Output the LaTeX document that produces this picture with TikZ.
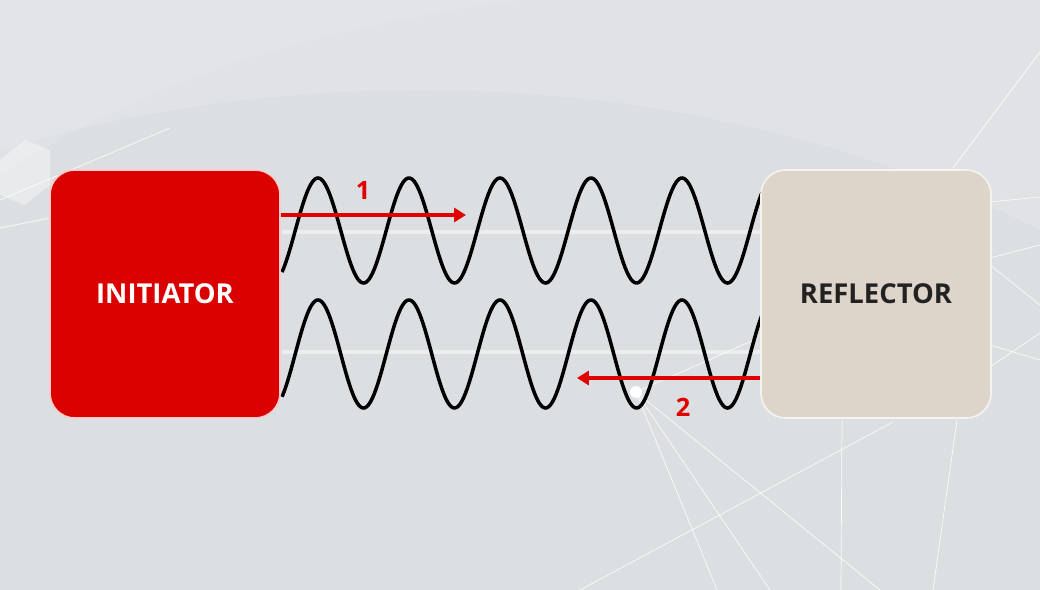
\documentclass[tikz,border=0pt]{standalone}
\usepackage{fontspec}
\setsansfont{Open Sans}
\newfontfamily\boxfont{Open Sans}
\usepackage{tikz}
\usetikzlibrary{arrows.meta, positioning}
\definecolor{initred}{HTML}{DA0000}
\definecolor{arrowred}{HTML}{E00000}
\definecolor{reflbeige}{HTML}{DED5CA}
\definecolor{bggray}{HTML}{DCDFE2}
\definecolor{textdark}{HTML}{222222}
\tikzset{
    devbox/.style={
        rectangle,
        rounded corners=0.62cm,
        minimum width=5.75cm,
        minimum height=6.2cm,
        line width=1.2pt,
        font=\boxfont\bfseries\fontsize{19.5}{24}\selectfont
    },
    initbox/.style={
        devbox,
        draw=white!80!initred,
        fill=initred,
        text=white
    },
    reflbox/.style={
        devbox,
        draw=white!70!reflbeige,
        fill=reflbeige,
        text=textdark
    },
    wave/.style={
        draw=black,
        line width=2.5pt
    },
    signal/.style={
        draw=arrowred,
        line width=2.5pt,
        -{Triangle[length=8.5pt,width=10pt]}
    },
    steplabel/.style={
        text=arrowred,
        font=\boxfont\bfseries\fontsize{18}{20}\selectfont
    },
    beam/.style={
        draw=white,
        line width=0.5pt,
        opacity=0.85
    }
}

\begin{document}
\begin{tikzpicture}[x=0.025cm, y=-0.025cm]

% Background
\useasboundingbox (0,0) rectangle (1040,590);
\fill[bggray] (0,0) rectangle (1040,590);
\fill[white, opacity=0.12] (0,150) .. controls (300,60) and (700,60) .. (1040,230) -- (1040,0) -- (0,0) -- cycle;
\fill[white, opacity=0.10] (0,175) .. controls (150,80) and (300,30) .. (520,0) -- (0,0) -- cycle;
\fill[white, opacity=0.35] (0,160) -- (25,140) -- (50,150) -- (50,185) -- (25,205) -- (0,195) -- cycle;

% Background lines
\draw[beam] (0,200) -- (170,128);
\draw[beam] (0,228) -- (50,218);
\draw[beam] (953,168) -- (1040,52);
\draw[beam] (990,202) -- (1040,197);
\draw[beam] (990,258) -- (1040,245);
\draw[beam] (990,265) -- (1040,305);
\draw[beam] (990,367) -- (1040,333);
\draw[beam] (990,345) -- (1040,360);
\draw[beam] (636,392) -- (754,340);
\draw[beam] (636,392) -- (717,590);
\draw[beam] (636,392) -- (770,590);
\draw[beam] (636,392) -- (880,590);
\draw[beam] (580,590) -- (893,422);
\draw[beam] (842,420) -- (841,590);
\draw[beam] (957,420) -- (933,590);
\fill[white] (636,392) circle (6);

% Center lines of the waves
\draw[white, line width=2.5pt, opacity=0.45] (282,232) -- (762,232);
\draw[white, line width=2.5pt, opacity=0.45] (282,352) -- (762,352);

% Waves
\draw[wave] plot[domain=282:762, samples=320] (\x, {230.5 - 52.5*cos(3.956*(\x-318))});
\draw[wave] plot[domain=282:762, samples=320] (\x, {354 - 54*cos(3.956*(\x-318))});

% Initiator and reflector
\node[initbox] (init) at (165,294) {INITIATOR};
\node[reflbox] (refl) at (876,294) {REFLECTOR};

% Signal 1
\coordinate (tip1) at (466,215);
\draw[signal] (init.east |- tip1) -- (tip1);
\node[steplabel] (lab1) at (363,190) {1};

% Signal 2
\coordinate (tip2) at (577,378);
\draw[signal] (refl.west |- tip2) -- (tip2);
\node[steplabel] (lab2) at (683,407) {2};

\end{tikzpicture}
\end{document}
